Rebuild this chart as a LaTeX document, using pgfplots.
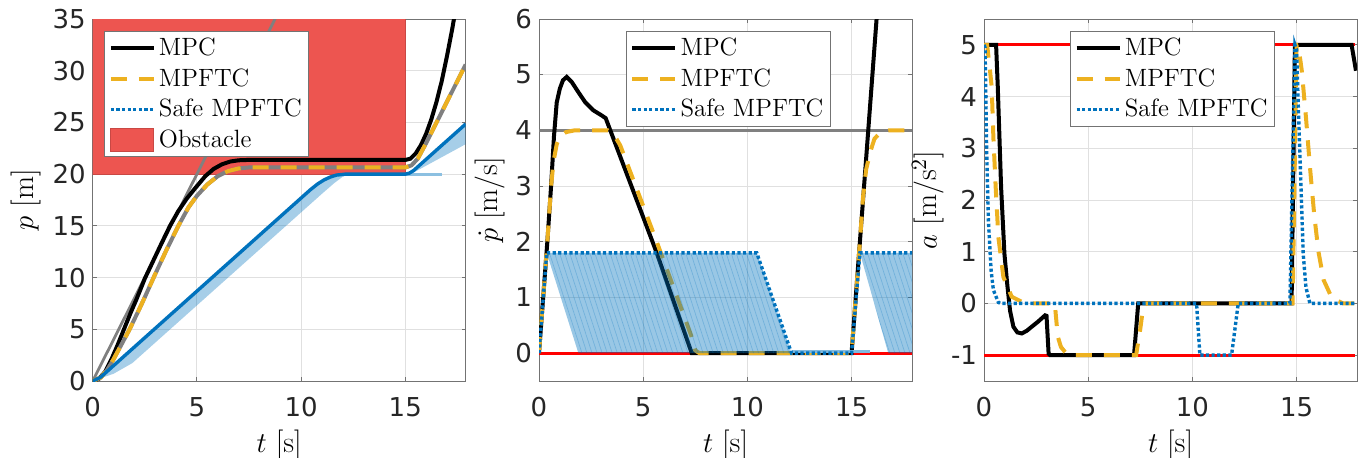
\documentclass[border=0pt]{standalone}
\usepackage{pgfplots}
\pgfplotsset{compat=1.18}
\usepackage{fontspec}
\usetikzlibrary{patterns.meta}
\newfontfamily\ticksfont{DejaVu Sans}
\definecolor{mblue}{rgb}{0,0.447,0.741}
\definecolor{myellow}{rgb}{0.929,0.694,0.125}
\definecolor{mred}{rgb}{1,0,0}
\definecolor{obst}{RGB}{237,85,80}
\definecolor{mgray}{rgb}{0.5,0.5,0.5}
\pgfplotsset{
  panel/.style={
    scale only axis, width=186.5pt, height=181pt,
    xmin=0, xmax=17.9, xtick={0,5,10,15},
    axis line style={black!55, line width=0.5pt},
    tick style={black!55, line width=0.5pt},
    major tick length=2pt,
    tick align=inside,
    grid=major, grid style={black!12, line width=0.4pt},
    tick label style={font=\fontsize{13}{13}\ticksfont, text=black!85},
    /pgf/number format/assume math mode=true,
    xticklabel style={yshift=-4.5pt},
    label style={font=\fontsize{15}{18}\selectfont},
    xlabel={$t$ [s]},
    legend cell align=left,
    legend style={font=\fontsize{12.5}{15}\selectfont, draw=black!55, line width=0.5pt,
      fill=white, inner xsep=2pt, inner ysep=1.5pt, row sep=1.9pt,
      nodes={inner sep=1.6pt}, anchor=north west},
  },
  legline/.style={legend image code/.code={\draw[##1] (0pt,0pt) -- (21.5pt,0pt);}},
  legarea/.style={legend image code/.code={\filldraw[##1] (0pt,-5.5pt) rectangle (21.5pt,6pt);}},
  mpc/.style={black, line width=2pt},
  mpftc/.style={myellow, line width=2pt, dash pattern=on 8pt off 6pt},
  safe/.style={mblue, line width=1.7pt, dash pattern=on 1.6pt off 1.2pt},
}
\begin{document}
\begin{tikzpicture}
\useasboundingbox (0,0) rectangle (683pt,228.5pt);
% ---------------- position ----------------
\begin{axis}[panel, at={(46.35pt,38pt)}, anchor=south west,
  ymin=0, ymax=35, ytick={0,5,...,35}, ylabel={$p$ [m]},
  ylabel style={at={(axis description cs:-0.18,0.5)}, anchor=center},
  legend style={at={(0.031,0.967)}}]
\addplot[fill=obst, draw=obst!85!black, line width=0.3pt, forget plot] coordinates {(0,20) (15,20) (15,36) (0,36)} -- cycle;
\addplot[mgray, line width=1.4pt, forget plot] coordinates {(0,0) (9,36)};
% safe fan
\addplot[fill=mblue, fill opacity=0.35, draw=none, forget plot] coordinates {
 (0,0) (0.37,0.35) (10.45,18.5) (10.8,19.06) (11.1,19.44) (11.4,19.72) (11.7,19.91) (12.12,20.0) (12.3,20.0)
 (12.0,19.75) (11.6,19.15) (11.0,18.1) (1.9,1.73) (1.0,0.7)} -- cycle;
\addplot[fill=mblue, fill opacity=0.35, draw=none, forget plot] coordinates {
 (15.3,20.05) (15.4,20.35) (17.9,24.85) (17.9,22.9)} -- cycle;
\addplot[mblue!45, line width=1.6pt, forget plot] coordinates {(12.0,20.0) (16.75,20.0)};
\addplot[mpc, forget plot] coordinates {
 (0,0) (0.3,0.22) (0.6,0.9) (0.9,2.1) (1.2,3.5) (1.5,5.0) (1.8,6.5) (2.1,7.9) (2.5,9.9)
 (2.9,11.6) (3.3,13.3) (3.71,15.0) (4.1,16.4) (4.5,17.6) (4.9,18.6) (5.4,19.8) (5.8,20.5)
 (6.2,20.95) (6.6,21.22) (7.0,21.34) (7.4,21.37) (15.0,21.37) (15.25,21.5) (15.5,22.0)
 (15.75,22.8) (16.0,23.9) (16.25,25.3) (16.5,27.0) (16.75,29.0) (17.0,31.4) (17.25,34.0) (17.5,36.9)};
\addplot[mgray, line width=2pt, forget plot] coordinates {
 (0,0) (0.4,0.35) (0.7,1.1) (1.0,2.1) (1.4,3.6) (1.77,5.0) (2.2,6.8) (2.5,8.1) (2.9,9.9)
 (3.5,12.5) (4.11,15.0) (4.6,16.8) (5.0,17.9) (5.5,19.0) (6.0,19.8) (6.5,20.3) (7.0,20.55)
 (7.5,20.65) (15.0,20.65) (15.3,20.85) (15.6,21.5) (16.0,23.0) (16.3,24.2) (16.9,26.6) (17.9,30.6)};
\addplot[mpftc, forget plot] coordinates {
 (0,0) (0.4,0.35) (0.7,1.1) (1.0,2.1) (1.4,3.6) (1.77,5.0) (2.2,6.8) (2.5,8.1) (2.9,9.9)
 (3.5,12.5) (4.11,15.0) (4.6,16.8) (5.0,17.9) (5.5,19.0) (6.0,19.8) (6.5,20.3) (7.0,20.55)
 (7.5,20.65) (15.0,20.65) (15.3,20.85) (15.6,21.5) (16.0,23.0) (16.3,24.2) (16.9,26.6) (17.9,30.6)};
\addplot[mblue, line width=1.7pt, forget plot] coordinates {
 (0,0) (0.37,0.35) (10.45,18.5) (10.8,19.06) (11.1,19.44) (11.4,19.72) (11.7,19.91) (12.12,20.0)
 (15.0,20.0) (15.2,20.1) (15.4,20.35) (17.9,24.85)};
\addlegendimage{mpc, legline}\addlegendentry{MPC}
\addlegendimage{mpftc, legline}\addlegendentry{MPFTC}
\addlegendimage{safe, legline}\addlegendentry{Safe MPFTC}
\addlegendimage{fill=obst, draw=obst!85!black, line width=0.3pt, legarea}\addlegendentry{Obstacle}
\end{axis}
% ---------------- velocity ----------------
\begin{axis}[panel, at={(269.5pt,38pt)}, anchor=south west,
  ymin=-0.5, ymax=6, ytick={0,1,...,6}, ylabel={$\dot{p}$ [m/s]},
  ylabel style={at={(axis description cs:-0.131,0.5)}, anchor=center},
  legend style={at={(0.233,0.967)}}]
\addplot[mred, line width=1.4pt, forget plot] coordinates {(0,0) (17.9,0)};
\addplot[mgray, line width=1.6pt, forget plot] coordinates {(0,4) (17.9,4)};
\addplot[mpc, forget plot] coordinates {
 (0,0) (0.4,2.0) (0.58,3.0) (0.72,3.9) (0.85,4.5) (1.0,4.75) (1.15,4.9) (1.33,4.96)
 (1.57,4.87) (1.9,4.68) (2.21,4.51) (2.61,4.36) (3.0,4.27) (3.2,4.22) (5.65,1.8) (7.33,0)
 (15.0,0) (15.4,2.0) (16.2,6.0) (16.4,7.0)};
\addplot[mpftc, forget plot] coordinates {
 (0,0) (0.4,2.0) (0.58,3.0) (0.7,3.45) (0.85,3.75) (1.0,3.89) (1.3,3.97) (1.7,4.0) (3.3,4.0)
 (3.6,3.92) (3.9,3.73) (5.65,2.0) (7.3,0.32) (7.5,0.05) (7.7,0) (15.0,0) (15.4,2.0) (15.55,2.8)
 (15.7,3.3) (15.9,3.62) (16.1,3.85) (16.4,3.97) (16.8,4.0) (17.9,4.0)};
\addplot[fill=mblue, fill opacity=0.4, draw=none, forget plot] coordinates {
 (0.37,1.8) (10.45,1.8) (12.12,0) (1.89,0)} -- cycle;
\addplot[fill=mblue, fill opacity=0.4, draw=none, forget plot] coordinates {
 (15.4,1.8) (17.9,1.8) (17.9,0) (16.76,0)} -- cycle;
\addplot[pattern={Lines[angle=-72,distance=2.4pt,line width=0.35pt]}, pattern color=mblue, opacity=0.25, draw=none, forget plot] coordinates {
 (0.37,1.8) (10.45,1.8) (12.12,0) (1.89,0)} -- cycle;
\addplot[pattern={Lines[angle=-72,distance=2.4pt,line width=0.35pt]}, pattern color=mblue, opacity=0.25, draw=none, forget plot] coordinates {
 (15.4,1.8) (17.9,1.8) (17.9,0) (16.76,0)} -- cycle;
\addplot[mblue!50, line width=1.4pt, forget plot] coordinates {(12.12,0.03) (15.9,0.03)};
\addplot[safe, forget plot] coordinates {
 (0,0) (0.37,1.8) (10.45,1.8) (12.12,0) (15.0,0) (15.4,1.8) (17.9,1.8)};
\addlegendimage{mpc, legline}\addlegendentry{MPC}
\addlegendimage{mpftc, legline}\addlegendentry{MPFTC}
\addlegendimage{safe, legline}\addlegendentry{Safe MPFTC}
\end{axis}
% ---------------- acceleration ----------------
\begin{axis}[panel, at={(492pt,38pt)}, anchor=south west,
  ymin=-1.5, ymax=5.5, ytick={-1,0,...,5}, ylabel={$a$ [m/s$^2$]},
  ylabel style={at={(axis description cs:-0.15,0.5)}, anchor=center},
  legend style={at={(0.231,0.967)}}]
\addplot[mred, line width=1.4pt, forget plot] coordinates {(0,5) (17.8,5)};
\addplot[mred, line width=1.4pt, forget plot] coordinates {(0,-1) (17.8,-1)};
\addplot[mpc, forget plot] coordinates {
 (0,5) (0.58,5) (0.66,4.2) (0.82,2.25) (0.98,0.96) (1.12,0.35) (1.25,-0.14) (1.41,-0.45)
 (1.6,-0.56) (1.81,-0.58) (2.05,-0.53) (2.29,-0.45) (2.6,-0.35) (2.93,-0.23) (3.0,-0.24)
 (3.1,-0.97) (3.17,-1) (7.2,-1) (7.4,0) (14.76,0) (14.92,5) (17.64,5) (17.85,4.5)};
\addplot[mpftc, forget plot] coordinates {
 (0,5) (0.15,5) (0.29,4.5) (0.37,4.18) (0.45,3.21) (0.56,2.25) (0.69,1.28) (0.93,0.51)
 (1.33,0.13) (1.97,0) (3.35,0) (3.41,-0.06) (3.54,-0.64) (3.69,-0.84) (3.89,-0.94) (4.05,-1)
 (7.3,-1) (7.49,-0.52) (7.64,-0.07) (7.8,0) (14.81,0) (15.0,5) (15.08,5) (15.25,4.5)
 (15.45,3.6) (15.65,2.6) (15.85,1.7) (16.05,1.0) (16.3,0.45) (16.7,0.1) (17.24,0) (17.85,0)};
\addplot[safe, forget plot] coordinates {
 (0,5) (0.05,4.95) (0.08,4.18) (0.13,2.9) (0.21,1.61) (0.34,0.64) (0.45,0.26) (0.69,0.02)
 (0.8,0) (10.2,0) (10.36,-1) (11.88,-1) (12.2,0) (14.68,0) (14.92,5) (15.0,4.9) (15.08,3.84)
 (15.16,2.88) (15.24,1.91) (15.32,0.95) (15.45,0.31) (15.64,0) (17.85,0)};
\addlegendimage{mpc, legline}\addlegendentry{MPC}
\addlegendimage{mpftc, legline}\addlegendentry{MPFTC}
\addlegendimage{safe, legline}\addlegendentry{Safe MPFTC}
\end{axis}
\end{tikzpicture}
\end{document}
